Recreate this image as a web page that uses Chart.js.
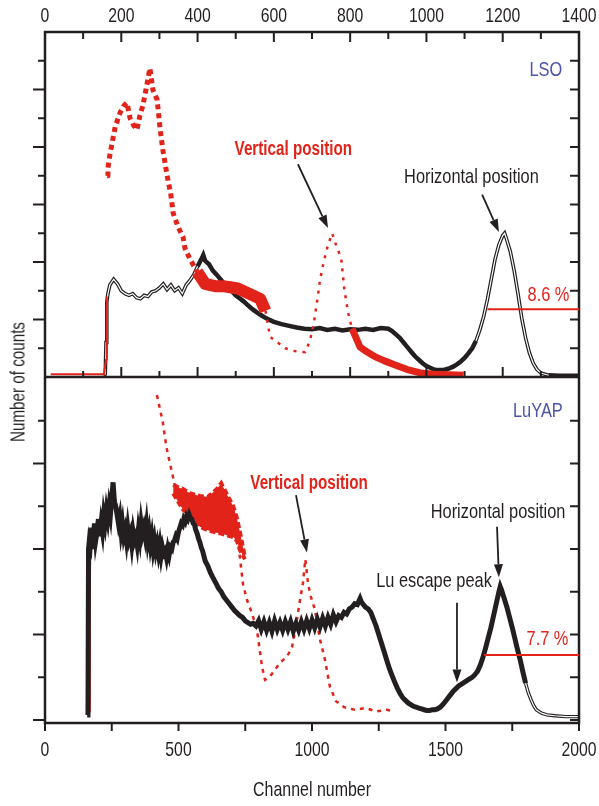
<!DOCTYPE html>
<html>
<head>
<meta charset="utf-8">
<script src="https://cdn.jsdelivr.net/npm/chart.js@4.4.0/dist/chart.umd.min.js"></script>
<style>
  body { margin: 0; background: #fff; }
  #wrap { position: relative; width: 599px; height: 806px; overflow: hidden; }
  #wrap canvas { position: absolute; left: 0; }
  #topChart { top: 0; }
  #bottomChart { top: 377px; }
  #ylabel {
    position: absolute; left: 18px; top: 382px;
    transform: translate(-50%, -50%) rotate(-90deg) scaleX(0.76);
    font: 20px 'Liberation Sans', Arial, sans-serif;
    color: #231f20; white-space: nowrap;
  }
</style>
</head>
<body>
<div id="wrap">
  <canvas id="topChart" width="599" height="380"></canvas>
  <canvas id="bottomChart" width="599" height="429"></canvas>
  <div id="ylabel">Number of counts</div>
</div>
<script>
// ---- LSO (top panel), channel 0..1400 ----
const lsoHorizCh = [
  150,158,160,162,165,170,180,190,200,210,
  220,230,240,250,260,270,280,290,300,310,
  320,330,340,350,360,370,380,390,400,410,
  415,420,430,440,450,460,470,480,490,500,
  510,520,530,540,550,560,570,580,590,600,
  620,640,660,680,700,720,740,760,780,800,
  820,840,860,880,900,910,920,930,940,950,
  960,970,980,990,1000,1010,1020,1030,1040,1050,
  1060,1070,1080,1090,1100,1110,1120,1130,1140,1150,
  1160,1170,1180,1190,1200,1205,1210,1220,1230,1240,
  1250,1260,1270,1280,1290,1300,1320,1350,1400
];
const lsoHorizCounts = [
  0.02,0.05,0.6,1.3,1.45,1.6,1.7,1.62,1.5,1.45,
  1.42,1.45,1.38,1.36,1.42,1.4,1.48,1.5,1.55,1.62,
  1.52,1.6,1.5,1.55,1.45,1.6,1.68,1.78,1.92,2.05,
  2.12,2.02,1.96,1.85,1.78,1.7,1.62,1.55,1.49,1.42,
  1.37,1.32,1.26,1.2,1.15,1.1,1.06,1.02,0.99,0.96,
  0.92,0.89,0.86,0.84,0.83,0.85,0.82,0.84,0.81,0.83,
  0.82,0.84,0.82,0.85,0.84,0.8,0.74,0.68,0.6,0.52,
  0.44,0.36,0.3,0.24,0.19,0.16,0.13,0.12,0.12,0.13,
  0.15,0.18,0.22,0.27,0.33,0.41,0.5,0.63,0.82,1.05,
  1.35,1.7,2.05,2.3,2.46,2.5,2.4,2.18,1.85,1.45,
  1.02,0.68,0.42,0.24,0.13,0.07,0.03,0.02,0.02
];
const lsoVertCh = [
  15,155,160,162,162.5,163,165,170,176,184,197,
  207,215,223,232,241,249,257,267,275,283,
  294,302,309,320,330,336,349,362,367,380,
  399,407,420,446,465,486,505,525,545,564,
  578,590,610,630,655,682,695,705,716,721,
  730,742,753,760,769,777,785,795,805,826,
  846,866,890,918,950,984,1020,1060,1097
];
const lsoVertCounts = [
  0.05,0.05,0.3,1.4,null,3.5,3.64,3.86,4.07,4.35,4.6,
  4.72,4.77,4.5,4.38,4.3,4.55,4.73,5.08,5.37,4.99,
  4.82,4.3,3.95,3.51,3.17,2.85,2.61,2.43,2.24,2.05,
  1.83,1.75,1.62,1.58,1.58,1.56,1.54,1.48,1.42,1.36,
  1.15,0.7,0.6,0.5,0.45,0.43,0.64,0.95,1.43,1.69,
  1.98,2.3,2.5,2.35,2.2,2.03,1.51,1.11,0.84,0.52,
  0.43,0.35,0.28,0.21,0.13,0.07,0.05,0.04,0.03
];

// ---- LuYAP (bottom panel), channel 0..2000 ----
const luyapHorizCh = [
  158,161,163,166,170,175,180,185,190,195,
  200,205,210,215,220,225,230,235,240,245,
  250,255,260,265,270,275,280,285,290,295,
  300,305,310,315,320,325,330,335,340,345,
  350,355,360,365,370,375,380,385,390,395,
  400,405,410,415,420,425,430,435,440,445,
  450,455,460,465,470,475,480,485,490,495,
  500,505,510,515,520,525,530,535,540,545,
  550,555,560,565,570,575,580,585,590,595,
  600,610,620,630,640,650,660,670,680,690,
  700,710,720,730,740,750,760,770,780,790,
  800,810,820,830,840,850,860,870,880,890,
  900,910,920,930,940,950,960,970,980,990,
  1000,1010,1020,1030,1040,1050,1060,1070,1080,1090,
  1100,1110,1120,1130,1140,1150,1160,1170,1180,1185,
  1190,1200,1210,1220,1230,1240,1250,1260,1270,1280,
  1290,1300,1310,1320,1330,1340,1350,1360,1370,1380,
  1390,1400,1410,1420,1430,1440,1450,1460,1470,1480,
  1490,1500,1510,1520,1530,1540,1550,1560,1570,1580,
  1590,1600,1610,1620,1630,1640,1650,1660,1670,1680,
  1690,1700,1705,1710,1720,1730,1740,1750,1760,1770,
  1780,1790,1800,1810,1820,1830,1840,1860,1880,1910,
  1950,2000
];
const luyapHorizCounts = [
  0.06,0.1,2.0,2.1,2.05,2.25,2.0,2.3,2.1,2.2,
  2.35,2.15,2.3,2.2,2.4,2.3,2.45,2.35,2.5,2.4,
  2.6,2.78,2.55,2.5,2.4,2.3,2.38,2.2,2.3,2.15,
  2.22,2.1,2.25,2.12,2.18,2.05,2.2,2.1,2.15,2.05,
  2.22,2.12,2.3,2.18,2.25,2.15,2.28,2.1,2.2,2.05,
  2.15,2.0,2.1,1.98,2.06,1.95,2.05,1.92,2.02,1.95,
  1.98,1.9,2.0,1.93,2.02,2.0,2.08,2.1,2.15,2.12,
  2.2,2.25,2.3,2.28,2.35,2.32,2.38,2.35,2.4,2.36,
  2.35,2.3,2.28,2.22,2.18,2.12,2.08,2.02,1.98,1.92,
  1.86,1.8,1.72,1.66,1.6,1.54,1.5,1.44,1.4,1.36,
  1.32,1.28,1.25,1.22,1.2,1.16,1.14,1.12,1.13,1.1,
  1.16,1.06,1.15,1.05,1.14,1.04,1.16,1.06,1.14,1.05,
  1.15,1.06,1.15,1.04,1.13,1.05,1.15,1.06,1.16,1.07,
  1.17,1.08,1.18,1.09,1.19,1.1,1.2,1.12,1.23,1.15,
  1.22,1.2,1.26,1.24,1.3,1.32,1.36,1.35,1.42,1.38,
  1.36,1.32,1.3,1.26,1.18,1.1,1.0,0.9,0.8,0.7,
  0.6,0.52,0.44,0.37,0.31,0.26,0.23,0.2,0.18,0.16,
  0.15,0.14,0.13,0.12,0.11,0.11,0.12,0.12,0.13,0.15,
  0.18,0.22,0.26,0.3,0.34,0.37,0.4,0.42,0.44,0.46,
  0.48,0.5,0.53,0.57,0.64,0.73,0.84,0.96,1.08,1.22,
  1.36,1.5,1.56,1.52,1.42,1.32,1.2,1.08,0.95,0.82,
  0.7,0.56,0.43,0.32,0.24,0.17,0.12,0.08,0.06,0.05,
  0.04,0.04
];
const luyapVertCh = [
  166,168,170,180,200,230,255,280,320,360,
  400,415,417,419,431,442,449,457,468,476,
  487,500,520,540,560,580,600,620,640,660,
  680,700,720,730,742,757,775,794,813,824,
  840,860,880,906,925,940,955,966,975,985,
  995,1011,1030,1049,1067,1090,1120,1160,1200,1240,
  1280,1310
];
const luyapVertCounts = [
  0.1,1.5,2.1,2.05,2.3,2.4,2.7,2.35,2.15,2.25,
  2.1,2.0,null,3.8,3.63,3.47,3.31,3.16,3.0,2.89,
  2.73,2.6,2.55,2.5,2.52,2.48,2.5,2.47,2.5,2.45,
  2.44,2.38,2.22,1.9,1.58,1.4,1.25,1.05,0.62,0.47,
  0.5,0.58,0.67,0.74,0.85,1.1,1.4,1.6,1.88,1.6,
  1.45,1.29,0.94,0.7,0.39,0.22,0.15,0.12,0.14,0.1,
  0.12,0.1
];
// spread of the red vertical-position traces between ch 480 and 750
const luyapBandCh   = [480,517,545,580,610,643,660,693,705,718,730,749];
const luyapBandHigh = [2.75,2.7,2.65,2.62,2.61,2.7,2.77,2.57,2.5,2.37,2.2,1.9];
const luyapBandLow  = [2.65,2.46,2.4,2.26,2.22,2.19,2.18,2.15,2.14,2.1,1.99,1.88];

const lsoXTicks = [0,200,400,600,800,1000,1200,1400];
const luyapXTicks = [0,500,1000,1500,2000];

const RED = '#e2231a', INK = '#231f20', BLUE = '#4a55a7';
const FONT = "'Liberation Sans', Arial, sans-serif";
Chart.defaults.font.family = FONT;
Chart.defaults.color = INK;

function zip(xs, ys) { return xs.map((x, i) => ({x: x, y: ys[i]})); }
function range(a, b, s) { const r = []; for (let v = a; v <= b + 1e-9; v += s) r.push(+v.toFixed(2)); return r; }

// the original uses a condensed face; squeeze a regular one horizontally
function narrowText(ctx, text, x, y, size, color, bold, squeeze) {
  ctx.save();
  ctx.font = (bold ? 'bold ' : '') + size + 'px ' + FONT;
  ctx.fillStyle = color;
  ctx.textAlign = 'center';
  ctx.textBaseline = 'middle';
  ctx.translate(x, y);
  ctx.scale(squeeze, 1);
  ctx.fillText(text, 0, 0);
  ctx.restore();
}

// frame, tick marks and tick labels
const frameTicks = {
  id: 'frameTicks',
  afterDatasetsDraw(chart, args, o) {
    const {ctx, chartArea: a} = chart;
    const xs = chart.scales.x, ys = chart.scales.y;
    ctx.save();
    ctx.strokeStyle = INK;
    ctx.lineWidth = 2;
    ctx.beginPath();
    o.yTicks.forEach(v => {
      const y = ys.getPixelForValue(v);
      const len = Number.isInteger(v) ? 12 : 7;
      ctx.moveTo(a.left - len, y); ctx.lineTo(a.left, y);
      ctx.moveTo(a.right, y); ctx.lineTo(a.right - 9, y);
    });
    o.xTicks.forEach(v => {
      const x = xs.getPixelForValue(v);
      const major = v % o.xMajor === 0;
      if (o.xSide === 'top') {
        ctx.moveTo(x, a.top); ctx.lineTo(x, a.top + (major ? 10 : 7));
        ctx.moveTo(x, a.bottom); ctx.lineTo(x, a.bottom - (major ? 10 : 6));
      } else {
        ctx.moveTo(x, a.bottom); ctx.lineTo(x, a.bottom + 8);
      }
    });
    ctx.stroke();
    ctx.lineWidth = 2.5;
    ctx.beginPath();
    ctx.moveTo(a.left, o.openTop ? a.top : a.top - 1.25);
    ctx.lineTo(a.left, a.bottom + 1.25);
    ctx.moveTo(a.right, o.openTop ? a.top : a.top - 1.25);
    ctx.lineTo(a.right, a.bottom + 1.25);
    ctx.moveTo(a.left, a.bottom); ctx.lineTo(a.right, a.bottom);
    if (!o.openTop) { ctx.moveTo(a.left, a.top); ctx.lineTo(a.right, a.top); }
    ctx.stroke();
    ctx.restore();
    // tick labels from the scale's own ticks
    const ly = o.xSide === 'top' ? a.top - 16 : a.bottom + 27;
    xs.ticks.forEach(t => narrowText(ctx, String(t.value), xs.getPixelForValue(t.value), ly, 21, INK, false, 0.75));
    if (o.title) narrowText(ctx, o.title, (a.left + a.right) / 2, a.bottom + 67, 21, INK, false, 0.76);
  }
};

// labels, arrows and FWHM line, placed in data coordinates
const notes = {
  id: 'notes',
  afterDraw(chart, args, o) {
    const {ctx} = chart;
    const X = v => chart.scales.x.getPixelForValue(v);
    const Y = v => chart.scales.y.getPixelForValue(v);
    ctx.save();
    ctx.strokeStyle = RED; ctx.lineWidth = 2;
    ctx.beginPath();
    ctx.moveTo(X(o.fwhm.from), Y(o.fwhm.at));
    ctx.lineTo(X(o.fwhm.to), Y(o.fwhm.at));
    ctx.stroke();
    o.arrows.forEach(([x0, y0, x1, y1]) => {
      const ax = X(x0), ay = Y(y0), bx = X(x1), by = Y(y1);
      const ang = Math.atan2(by - ay, bx - ax);
      const hl = 13, hw = 4.5;
      const cx = bx - hl * Math.cos(ang), cy = by - hl * Math.sin(ang);
      ctx.strokeStyle = INK; ctx.fillStyle = INK; ctx.lineWidth = 1.8;
      ctx.beginPath(); ctx.moveTo(ax, ay); ctx.lineTo(cx, cy); ctx.stroke();
      ctx.beginPath();
      ctx.moveTo(bx, by);
      ctx.lineTo(cx + hw * Math.sin(ang), cy - hw * Math.cos(ang));
      ctx.lineTo(cx - hw * Math.sin(ang), cy + hw * Math.cos(ang));
      ctx.closePath(); ctx.fill();
    });
    ctx.restore();
    o.labels.forEach(n => narrowText(ctx, n.text, X(n.x), Y(n.y), n.size, n.color, n.bold, n.bold ? 0.76 : 0.78));
  }
};

const lsoVertStyle = x => x < 162 ? [2, []] : x < 395 ? [5, [5, 4]] : x < 575 ? [12, []] : x < 800 ? [2.5, [3, 6]] : [7, []];
const lsoOutlined = x => x < 395 || (x >= 1130 && x < 1320);

new Chart(document.getElementById('topChart'), {
  type: 'line',
  data: {
    datasets: [
      { data: zip(lsoVertCh, lsoVertCounts), borderColor: RED, borderWidth: 2, order: 1, clip: 0,
        spanGaps: false, borderJoinStyle: 'round',
        segment: { borderWidth: c => lsoVertStyle(c.p0.parsed.x)[0], borderDash: c => lsoVertStyle(c.p0.parsed.x)[1] } },
      { data: zip(lsoHorizCh, lsoHorizCounts), borderColor: 'rgba(0,0,0,0)', borderWidth: 1.2, order: 2, clip: 0,
        segment: { borderColor: c => lsoOutlined(c.p0.parsed.x) ? '#fff' : 'rgba(0,0,0,0)' } },
      { data: zip(lsoHorizCh, lsoHorizCounts), borderColor: INK, borderWidth: 4, order: 3, clip: 0,
        segment: { borderWidth: c => lsoOutlined(c.p0.parsed.x) ? 3.6 : 4.5 } }
    ]
  },
  options: {
    responsive: false, animation: false, events: [],
    elements: { point: { radius: 0 }, line: { tension: 0 } },
    layout: { padding: { left: 0, right: 20, top: 0, bottom: 3 } },
    plugins: {
      legend: { display: false }, tooltip: { enabled: false },
      frameTicks: { yTicks: range(0.5, 5.5, 0.5), xTicks: range(100, 1300, 100), xMajor: 200, xSide: 'top' },
      notes: {
        fwhm: { from: 1160, to: 1400, at: 1.18 },
        arrows: [[663, 3.7, 742, 2.59], [1146, 3.17, 1190, 2.52]],
        labels: [
          { text: 'LSO', x: 1313, y: 5.34, color: BLUE, size: 21 },
          { text: 'Vertical position', x: 651, y: 3.95, color: RED, size: 20, bold: true },
          { text: 'Horizontal position', x: 1118, y: 3.48, color: INK, size: 21 },
          { text: '8.6 %', x: 1320, y: 1.43, color: RED, size: 21 }
        ]
      }
    },
    scales: {
      x: { type: 'linear', position: 'top', min: 0, max: 1400,
        afterBuildTicks: s => { s.ticks = lsoXTicks.map(v => ({value: v})); },
        ticks: { display: false }, grid: { display: false, drawTicks: false }, border: { display: false },
        afterFit: s => { s.height = 32; } },
      y: { type: 'linear', min: 0, max: 6,
        ticks: { display: false }, grid: { display: false, drawTicks: false }, border: { display: false },
        afterFit: s => { s.width = 45; } }
    }
  },
  plugins: [frameTicks, notes]
});

const luyapVertStyle = x => x < 417 ? [2, []] : [2.5, [4, 5]];
const luyapOutlined = x => x >= 1800;

new Chart(document.getElementById('bottomChart'), {
  type: 'line',
  data: {
    datasets: [
      { data: zip(luyapHorizCh, luyapHorizCounts), borderColor: 'rgba(0,0,0,0)', borderWidth: 1.2, order: 1, clip: 0,
        segment: { borderColor: c => luyapOutlined(c.p0.parsed.x) ? '#fff' : 'rgba(0,0,0,0)' } },
      { data: zip(luyapHorizCh, luyapHorizCounts), borderColor: INK, borderWidth: 5, order: 2, clip: 0,
        segment: { borderWidth: c => luyapOutlined(c.p0.parsed.x) ? 3.4 : 5 } },
      { data: zip(luyapBandCh, luyapBandHigh), borderColor: RED, backgroundColor: RED, borderWidth: 4,
        borderDash: [6, 3], fill: '+1', order: 3, clip: 0 },
      { data: zip(luyapBandCh, luyapBandLow), borderColor: RED, borderWidth: 4, borderDash: [6, 3],
        fill: false, order: 4, clip: 0 },
      { data: zip(luyapVertCh, luyapVertCounts), borderColor: RED, borderWidth: 2, order: 5, clip: 0, spanGaps: false,
        segment: { borderWidth: c => luyapVertStyle(c.p0.parsed.x)[0], borderDash: c => luyapVertStyle(c.p0.parsed.x)[1] } }
    ]
  },
  options: {
    responsive: false, animation: false, events: [],
    elements: { point: { radius: 0 }, line: { tension: 0 } },
    layout: { padding: { left: 0, right: 20, top: 1, bottom: 0 } },
    plugins: {
      legend: { display: false }, tooltip: { enabled: false },
      frameTicks: { yTicks: range(0, 3.5, 0.5), xTicks: range(0, 2000, 250), xMajor: 500, xSide: 'bottom',
        openTop: true, title: 'Channel number' },
      notes: {
        fwhm: { from: 1644, to: 2000, at: 0.76 },
        arrows: [[940, 2.63, 981, 1.96], [1693, 2.26, 1700, 1.67], [1543, 1.37, 1543, 0.44]],
        labels: [
          { text: 'LuYAP', x: 1846, y: 3.61, color: BLUE, size: 21 },
          { text: 'Vertical position', x: 989, y: 2.77, color: RED, size: 20, bold: true },
          { text: 'Horizontal position', x: 1697, y: 2.43, color: INK, size: 21 },
          { text: 'Lu escape peak', x: 1457, y: 1.62, color: INK, size: 21 },
          { text: '7.7 %', x: 1882, y: 0.94, color: RED, size: 21 }
        ]
      }
    },
    scales: {
      x: { type: 'linear', position: 'bottom', min: 0, max: 2000,
        afterBuildTicks: s => { s.ticks = luyapXTicks.map(v => ({value: v})); },
        ticks: { display: false }, grid: { display: false, drawTicks: false }, border: { display: false },
        afterFit: s => { s.height = 83; } },
      y: { type: 'linear', min: -0.035, max: 4,
        ticks: { display: false }, grid: { display: false, drawTicks: false }, border: { display: false },
        afterFit: s => { s.width = 45; } }
    }
  },
  plugins: [frameTicks, notes]
});
</script>
</body>
</html>
